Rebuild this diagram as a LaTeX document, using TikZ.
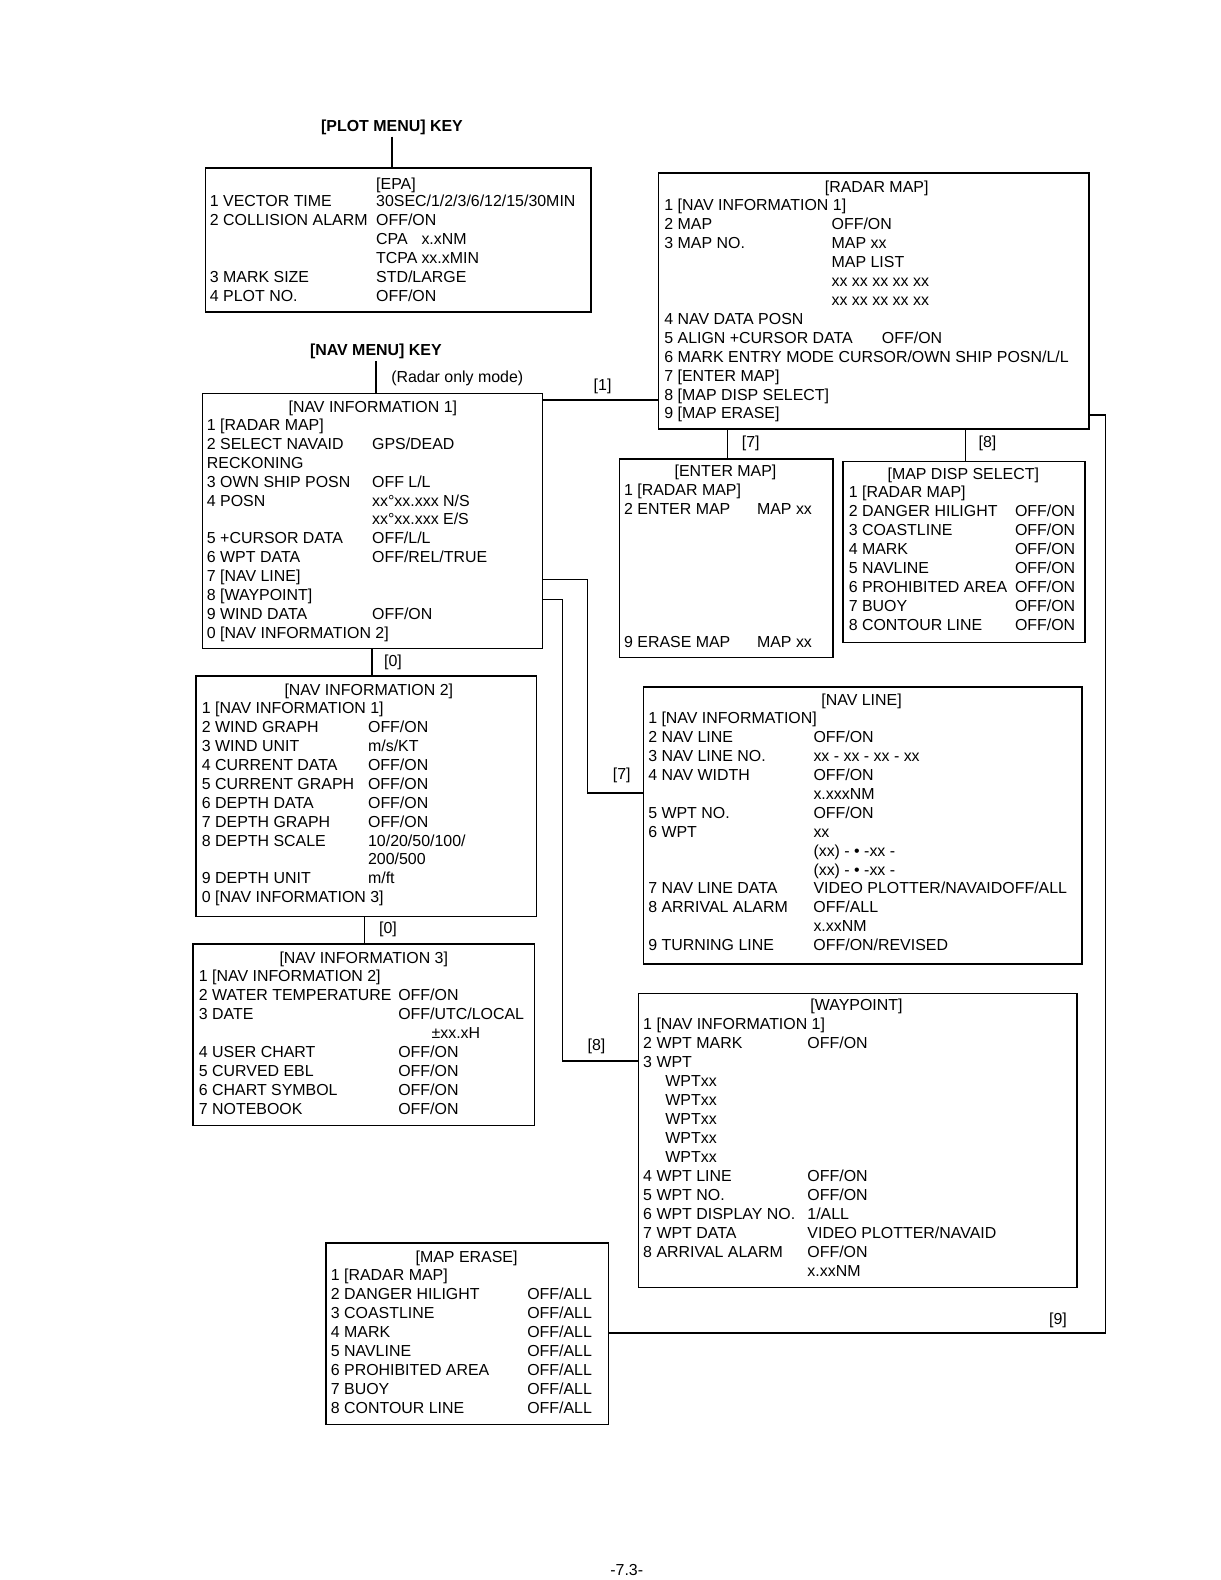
\documentclass[tikz,border=0pt]{standalone}
\usepackage{fontspec}
\setmainfont{Liberation Sans}
\newlength\colw
\newcommand\menurow[2]{\makebox[\colw][l]{#1}#2}

\begin{document}
\begin{tikzpicture}[x=0.02cm, y=0.02cm,
  every node/.style={font=\fontsize{9}{10.7}\selectfont},
  menubox/.style={draw, line width=0.8pt, anchor=north west, inner sep=0pt},
  menutitle/.style={anchor=base, inner sep=0pt},
  menurows/.style={anchor=base west, inner sep=0pt, execute at begin node={\setlength\colw{#1}}},
  keylabel/.style={font=\fontsize{9}{10.7}\selectfont\bfseries, inner sep=1pt},
  linklabel/.style={inner sep=0pt},
  link/.style={line width=0.8pt}]
\useasboundingbox (0,0) rectangle (1211,-1568);

\node[keylabel] (plotkey) at (389,-126) {[PLOT MENU] KEY};
\node[menubox, minimum width=7.66cm, minimum height=2.86cm] (epa) at (203,-166) {};
\node[menutitle, anchor=base west] (epatitle) at (373,-188) {[EPA]};
\node[menurows=3.30cm] (eparows) at (208,-205) {\begin{tabular}[t]{@{}l@{}}
\menurow{1 VECTOR TIME}{30SEC/1/2/3/6/12/15/30MIN}\\
\menurow{2 COLLISION ALARM}{OFF/ON}\\
\menurow{}{\makebox[0.9cm][l]{CPA}x.xNM}\\
\menurow{}{\makebox[0.9cm][l]{TCPA}xx.xMIN}\\
\menurow{3 MARK SIZE}{STD/LARGE}\\
\menurow{4 PLOT NO.}{OFF/ON}
\end{tabular}};

\node[keylabel] (navkey) at (373,-349) {[NAV MENU] KEY};
\node[anchor=base west, inner sep=0pt] (radaronly) at (388,-380) {(Radar only mode)};
\node[menubox, minimum width=6.76cm, minimum height=5.06cm] (nav1) at (200,-390) {};
\node[menutitle] (nav1title) at (370,-409) {[NAV INFORMATION 1]};
\node[menurows=3.28cm] (nav1rows) at (205,-427) {\begin{tabular}[t]{@{}l@{}}
\menurow{1 [RADAR MAP]}{}\\
\menurow{2 SELECT NAVAID}{GPS/DEAD}\\
\menurow{RECKONING}{}\\
\menurow{3 OWN SHIP POSN}{OFF L/L}\\
\menurow{4 POSN}{xx°xx.xxx N/S}\\
\menurow{}{xx°xx.xxx E/S}\\
\menurow{5 +CURSOR DATA}{OFF/L/L}\\
\menurow{6 WPT DATA}{OFF/REL/TRUE}\\
\menurow{7 [NAV LINE]}{}\\
\menurow{8 [WAYPOINT]}{}\\
\menurow{9 WIND DATA}{OFF/ON}\\
\menurow{0 [NAV INFORMATION 2]}{}
\end{tabular}};

\node[menubox, minimum width=8.54cm, minimum height=5.08cm] (radar) at (653,-171) {};
\node[menutitle] (radartitle) at (870,-191) {[RADAR MAP]};
\node[menurows=3.32cm] (radarrows) at (659,-209) {\begin{tabular}[t]{@{}l@{}}
\menurow{1 [NAV INFORMATION 1]}{}\\
\menurow{2 MAP}{OFF/ON}\\
\menurow{3 MAP NO.}{MAP xx}\\
\menurow{}{MAP LIST}\\
\menurow{}{xx xx xx xx xx}\\
\menurow{}{xx xx xx xx xx}\\
\menurow{4 NAV DATA POSN}{}\\
\makebox[4.32cm][l]{5 ALIGN +CURSOR DATA}OFF/ON\\
6 MARK ENTRY MODE CURSOR/OWN SHIP POSN/L/L\\
\menurow{7 [ENTER MAP]}{}\\
\menurow{8 [MAP DISP SELECT]}{}\\
\menurow{9 [MAP ERASE]}{}
\end{tabular}};

\node[menubox, minimum width=4.24cm, minimum height=3.94cm] (enter) at (614,-455) {};
\node[menutitle] (entertitle) at (720,-473) {[ENTER MAP]};
\node[menurows=2.64cm] (enterrows) at (619,-492) {\begin{tabular}[t]{@{}l@{}}
\menurow{1 [RADAR MAP]}{}\\
\menurow{2 ENTER MAP}{MAP xx}\\
\\ \\ \\ \\ \\ \\
\menurow{9 ERASE MAP}{MAP xx}
\end{tabular}};

\node[menubox, minimum width=4.80cm, minimum height=3.60cm] (mapdisp) at (836,-457) {};
\node[menutitle] (mapdisptitle) at (956,-476) {[MAP DISP SELECT]};
\node[menurows=3.30cm] (mapdisprows) at (842,-494) {\begin{tabular}[t]{@{}l@{}}
\menurow{1 [RADAR MAP]}{}\\
\menurow{2 DANGER HILIGHT}{OFF/ON}\\
\menurow{3 COASTLINE}{OFF/ON}\\
\menurow{4 MARK}{OFF/ON}\\
\menurow{5 NAVLINE}{OFF/ON}\\
\menurow{6 PROHIBITED AREA}{OFF/ON}\\
\menurow{7 BUOY}{OFF/ON}\\
\menurow{8 CONTOUR LINE}{OFF/ON}
\end{tabular}};

\node[menubox, minimum width=6.76cm, minimum height=4.78cm] (nav2) at (194,-670) {};
\node[menutitle] (nav2title) at (366,-690) {[NAV INFORMATION 2]};
\node[menurows=3.30cm] (nav2rows) at (200,-708) {\begin{tabular}[t]{@{}l@{}}
\menurow{1 [NAV INFORMATION 1]}{}\\
\menurow{2 WIND GRAPH}{OFF/ON}\\
\menurow{3 WIND UNIT}{m/s/KT}\\
\menurow{4 CURRENT DATA}{OFF/ON}\\
\menurow{5 CURRENT GRAPH}{OFF/ON}\\
\menurow{6 DEPTH DATA}{OFF/ON}\\
\menurow{7 DEPTH GRAPH}{OFF/ON}\\
\menurow{8 DEPTH SCALE}{10/20/50/100/}\\
\menurow{}{200/500}\\
\menurow{9 DEPTH UNIT}{m/ft}\\
\menurow{0 [NAV INFORMATION 3]}{}
\end{tabular}};

\node[menubox, minimum width=6.78cm, minimum height=3.60cm] (nav3) at (191,-936) {};
\node[menutitle] (nav3title) at (361,-956) {[NAV INFORMATION 3]};
\node[menurows=3.96cm] (nav3rows) at (197,-974) {\begin{tabular}[t]{@{}l@{}}
\menurow{1 [NAV INFORMATION 2]}{}\\
\menurow{2 WATER TEMPERATURE}{OFF/ON}\\
\menurow{3 DATE}{OFF/UTC/LOCAL}\\
\menurow{}{\hspace*{0.66cm}±xx.xH}\\
\menurow{4 USER CHART}{OFF/ON}\\
\menurow{5 CURVED EBL}{OFF/ON}\\
\menurow{6 CHART SYMBOL}{OFF/ON}\\
\menurow{7 NOTEBOOK}{OFF/ON}
\end{tabular}};

\node[menubox, minimum width=8.70cm, minimum height=5.50cm] (navline) at (638,-681) {};
\node[menutitle] (navlinetitle) at (855,-700) {[NAV LINE]};
\node[menurows=3.28cm] (navlinerows) at (643,-718) {\begin{tabular}[t]{@{}l@{}}
\menurow{1 [NAV INFORMATION]}{}\\
\menurow{2 NAV LINE}{OFF/ON}\\
\menurow{3 NAV LINE NO.}{xx - xx - xx - xx}\\
\menurow{4 NAV WIDTH}{OFF/ON}\\
\menurow{}{x.xxxNM}\\
\menurow{5 WPT NO.}{OFF/ON}\\
\menurow{6 WPT}{xx}\\
\menurow{}{(xx) - \textbullet\ -xx -}\\
\menurow{}{(xx) - \textbullet\ -xx -}\\
\menurow{7 NAV LINE DATA}{VIDEO PLOTTER/NAVAIDOFF/ALL}\\
\menurow{8 ARRIVAL ALARM}{OFF/ALL}\\
\menurow{}{x.xxNM}\\
\menurow{9 TURNING LINE}{OFF/ON/REVISED}
\end{tabular}};

\node[menubox, minimum width=8.70cm, minimum height=5.84cm] (waypoint) at (633,-985) {};
\node[menutitle] (waypointtitle) at (850,-1003) {[WAYPOINT]};
\node[menurows=3.26cm] (waypointrows) at (638,-1022) {\begin{tabular}[t]{@{}l@{}}
\menurow{1 [NAV INFORMATION 1]}{}\\
\menurow{2 WPT MARK}{OFF/ON}\\
\menurow{3 WPT}{}\\
\hspace*{0.44cm}WPTxx\\
\hspace*{0.44cm}WPTxx\\
\hspace*{0.44cm}WPTxx\\
\hspace*{0.44cm}WPTxx\\
\hspace*{0.44cm}WPTxx\\
\menurow{4 WPT LINE}{OFF/ON}\\
\menurow{5 WPT NO.}{OFF/ON}\\
\menurow{6 WPT DISPLAY NO.}{1/ALL}\\
\menurow{7 WPT DATA}{VIDEO PLOTTER/NAVAID}\\
\menurow{8 ARRIVAL ALARM}{OFF/ON}\\
\menurow{}{x.xxNM}
\end{tabular}};

\node[menubox, minimum width=5.60cm, minimum height=3.60cm] (maperase) at (323,-1233) {};
\node[menutitle] (maperasetitle) at (463,-1253) {[MAP ERASE]};
\node[menurows=3.90cm] (maperaserows) at (328,-1271) {\begin{tabular}[t]{@{}l@{}}
\menurow{1 [RADAR MAP]}{}\\
\menurow{2 DANGER HILIGHT}{OFF/ALL}\\
\menurow{3 COASTLINE}{OFF/ALL}\\
\menurow{4 MARK}{OFF/ALL}\\
\menurow{5 NAVLINE}{OFF/ALL}\\
\menurow{6 PROHIBITED AREA}{OFF/ALL}\\
\menurow{7 BUOY}{OFF/ALL}\\
\menurow{8 CONTOUR LINE}{OFF/ALL}
\end{tabular}};

\coordinate (e1) at (598,-397);
\coordinate (x7) at (722,0);
\coordinate (x8) at (958,0);
\coordinate (x0a) at (369,0);
\coordinate (x0b) at (362,0);
\coordinate (e7a) at (583,-575);
\coordinate (e7b) at (583,-787);
\coordinate (e8a) at (558,-595);
\coordinate (e8b) at (558,-1053);
\coordinate (e9a) at (1097,-412);
\coordinate (e9b) at (1097,-1323);

\draw[link] (plotkey.south) -- (plotkey.south |- epa.north);
\draw[link] (navkey.south) -- (navkey.south |- nav1.north);
\draw[link] (e1 -| nav1.east) -- (e1 -| radar.west);
\draw[link] (x7 |- radar.south) -- (x7 |- enter.north);
\draw[link] (x8 |- radar.south) -- (x8 |- mapdisp.north);
\draw[link] (x0a |- nav1.south) -- (x0a |- nav2.north);
\draw[link] (x0b |- nav2.south) -- (x0b |- nav3.north);
\draw[link] (e7a -| nav1.east) -- (e7a) -- (e7b) -- (e7b -| navline.west);
\draw[link] (e8a -| nav1.east) -- (e8a) -- (e8b) -- (e8b -| waypoint.west);
\draw[link] (e9a -| radar.east) -- (e9a) -- (e9b) -- (e9b -| maperase.east);

\node[linklabel] (lab1) at (598,-383) {[1]};
\node[linklabel] (lab7a) at (745,-440) {[7]};
\node[linklabel] (lab8a) at (980,-440) {[8]};
\node[linklabel] (lab0a) at (390,-657) {[0]};
\node[linklabel] (lab0b) at (385,-922) {[0]};
\node[linklabel] (lab7b) at (617,-769) {[7]};
\node[linklabel] (lab8b) at (592,-1038) {[8]};
\node[linklabel] (lab9) at (1050,-1310) {[9]};

\node (pageno) at (622,-1558) {-7.3-};
\end{tikzpicture}
\end{document}
